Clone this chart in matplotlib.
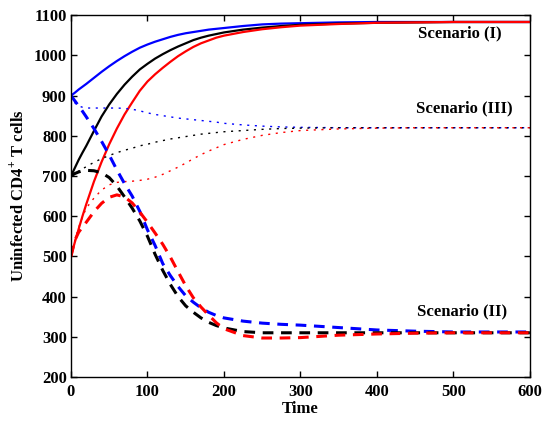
import matplotlib
matplotlib.use("Agg")
import matplotlib.pyplot as plt

plt.rcParams['font.family'] = ['Liberation Serif', 'DejaVu Serif']
plt.rcParams['font.weight'] = 'bold'
plt.rcParams['mathtext.fontset'] = 'custom'
plt.rcParams['mathtext.rm'] = 'Liberation Serif'
plt.rcParams['mathtext.bf'] = 'Liberation Serif:bold'

time = [0, 5, 10, 15, 20, 30, 40, 50, 60, 70, 80, 90, 100, 110, 120, 130, 140, 150,
        160, 170, 180, 190, 200, 225, 250, 275, 300, 350, 400, 450, 500, 550, 600]

# Scenario (I) - solid
blue_I = [900, 907, 915, 922, 929, 944, 959, 973, 986, 998, 1009, 1019, 1027, 1034, 1040, 1046,
          1051, 1055, 1058, 1061, 1064, 1066, 1068, 1073, 1077, 1079, 1080, 1082, 1083, 1083, 1083, 1083, 1083]
black_I = [700, 720, 740, 758, 775, 812, 848, 878, 904, 927, 947, 965, 979, 992, 1003, 1013,
           1022, 1030, 1038, 1044, 1049, 1053, 1057, 1064, 1069, 1073, 1076, 1079, 1081, 1082, 1083, 1083, 1083]
red_I = [500, 535, 568, 600, 630, 686, 735, 779, 818, 853, 883, 912, 935, 953, 969, 984,
         998, 1010, 1021, 1030, 1037, 1044, 1049, 1058, 1065, 1070, 1074, 1078, 1081, 1082, 1083, 1083, 1083]

# Scenario (III) - dotted
blue_III = [900, 882, 874, 871, 869, 869, 869, 869, 869, 868, 866, 862, 857, 853, 850, 847,
            844, 842, 840, 838, 836, 834, 831, 827, 824, 822, 821, 820, 820, 820, 820, 820, 820]
black_III = [700, 706, 712, 718, 723, 734, 743, 751, 758, 764, 769, 775, 779, 784, 788, 792,
             795, 798, 801, 804, 806, 808, 810, 813, 816, 818, 819, 820, 820, 820, 820, 820, 820]
red_III = [500, 540, 572, 598, 620, 645, 665, 678, 684, 686, 687, 689, 692, 697, 704, 713,
           722, 732, 743, 753, 762, 770, 778, 791, 801, 808, 813, 817, 819, 820, 820, 820, 820]

# Scenario (II) - dashed
blue_II = [900, 887, 874, 861, 847, 818, 786, 752, 715, 681, 650, 612, 566, 527, 482, 452,
           425, 402, 386, 372, 361, 353, 347, 339, 334, 331, 329, 323, 317, 314, 312, 312, 312]
black_II = [700, 706, 710, 713, 714, 713, 708, 696, 675, 648, 620, 588, 550, 505, 465, 430,
            400, 377, 361, 347, 336, 328, 322, 313, 310, 310, 310, 310, 310, 310, 310, 310, 310]
red_II = [500, 540, 560, 573, 585, 611, 632, 647, 653, 648, 633, 610, 585, 558, 530, 498,
          462, 427, 397, 374, 354, 335, 320, 303, 297, 297, 298, 304, 307, 309, 310, 310, 310]

labels = ["Scenario (I)", "Scenario (III)", "Scenario (II)"]
label_x = [509, 514, 511]
label_y = [1055, 869, 364]

fig = plt.figure(figsize=(5.44, 4.21), dpi=100)
ax = fig.add_axes([0.1305, 0.1045, 0.8435, 0.8595])

ax.plot(time, blue_I, color='blue', lw=1.6, ls='-')
ax.plot(time, black_I, color='black', lw=1.6, ls='-')
ax.plot(time, red_I, color='red', lw=1.6, ls='-')

ax.plot(time, blue_III, color='blue', lw=1.0, ls=(0, (1.5, 4)))
ax.plot(time, black_III, color='black', lw=1.0, ls=(0, (1.5, 4)))
ax.plot(time, red_III, color='red', lw=1.0, ls=(0, (1.5, 4)))

ax.plot(time, blue_II, color='blue', lw=2.2, ls=(0, (3.5, 2.5)))
ax.plot(time, black_II, color='black', lw=2.2, ls=(0, (3.5, 2.5)))
ax.plot(time, red_II, color='red', lw=2.2, ls=(0, (3.5, 2.5)))

for s, x, y in zip(labels, label_x, label_y):
    ax.text(x, y, s, ha='center', va='center', fontsize=12, fontweight='bold')

ax.set_xlim(0, 600)
ax.set_ylim(200, 1100)
ax.set_xticks(range(0, 601, 100))
ax.set_yticks(range(200, 1101, 100))
ax.tick_params(direction='in', top=True, right=True, length=4, width=1, labelsize=12)
ax.tick_params(axis='x', pad=5)
ax.tick_params(axis='y', pad=3)
for lab in ax.get_xticklabels() + ax.get_yticklabels():
    lab.set_fontweight('bold')
for sp in ax.spines.values():
    sp.set_linewidth(1.0)

ax.set_xlabel('Time', fontsize=12, fontweight='bold', labelpad=1)
ax.set_ylabel(r'Uninfected CD4$^{\mathbf{+}}$ T cells', fontsize=12, fontweight='bold', labelpad=5)

fig.savefig('out.png', dpi=100)
